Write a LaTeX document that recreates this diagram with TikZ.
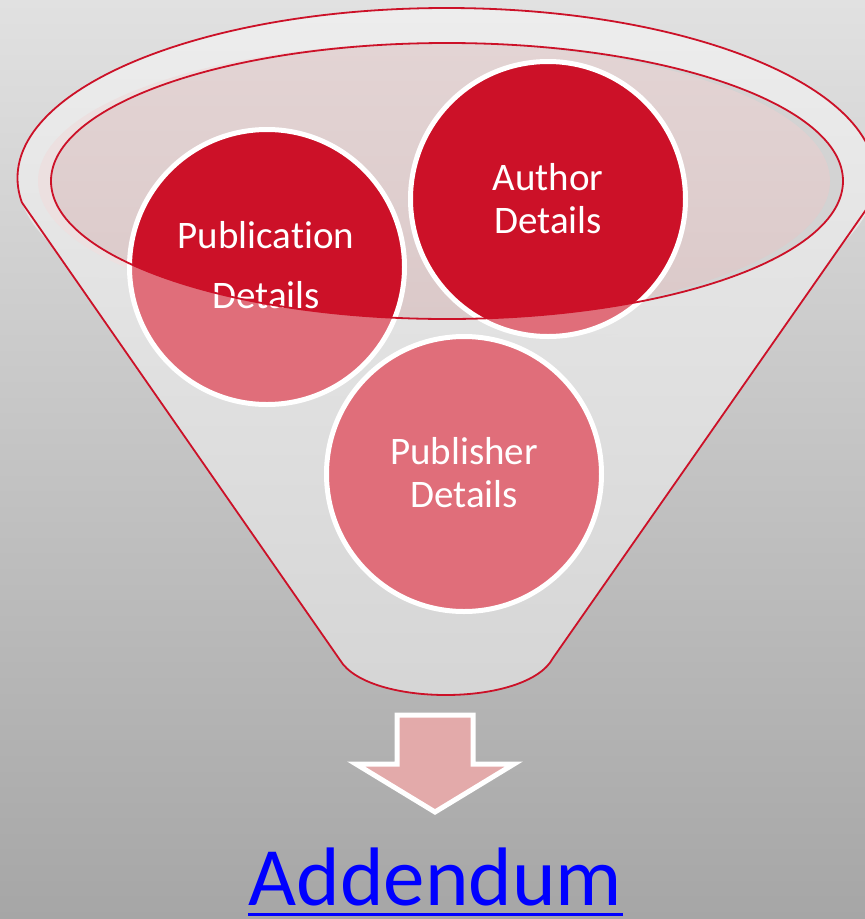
\documentclass[tikz,border=0pt]{standalone}
\usepackage{fontspec}
\setmainfont{Carlito}[RawFeature={-liga,-clig,-dlig}]
\definecolor{bgtop}{RGB}{225,225,225}
\definecolor{bgbot}{RGB}{166,166,166}
\definecolor{ringtop}{RGB}{237,237,237}
\definecolor{ringbot}{RGB}{225,225,225}
\definecolor{bodytop}{RGB}{230,230,230}
\definecolor{bodybot}{RGB}{213,213,213}
\definecolor{funred}{RGB}{204,17,40}
\definecolor{lightred}{RGB}{224,110,122}
\definecolor{pinkband}{RGB}{236,224,224}
\definecolor{pinktop}{RGB}{227,212,212}
\definecolor{pinkbot}{RGB}{219,201,201}
\definecolor{innergray}{RGB}{211,211,211}
\definecolor{arrowfill}{RGB}{227,170,170}
\definecolor{linkblue}{RGB}{0,0,255}
\begin{document}
\begin{tikzpicture}[x=1pt,y=-1pt,
  redline/.style={draw=funred,line width=1.8pt},
  bubble/.style={circle,minimum size=275pt,inner sep=0pt,fill=lightred},
  ring/.style={draw=white,line width=5pt},
  bubbletext/.style={anchor=base,text=white,font=\fontsize{39}{44}\selectfont,inner sep=0pt}]

\useasboundingbox (0,0) rectangle (865,919);
\shade[top color=bgtop,bottom color=bgbot] (0,0) rectangle (865,919);

% funnel body and rim
\shade[top color=bodytop,bottom color=bodybot] (22,202.6) -- (871,202.6) -- (553,658) .. controls (527,707) and (368,707) .. (340,660) -- cycle;
\shade[top color=ringtop,bottom color=ringbot] (446.5,178) ellipse [x radius=429,y radius=170];
\begin{scope}
  \clip (-10,-10) rectangle (900,202.6);
  \draw[redline] (446.5,178) ellipse [x radius=429,y radius=170];
\end{scope}
\draw[redline] (22,202.6) -- (340,660) .. controls (368,707) and (527,707) .. (553,658) -- (871,202.6);

% inner opening
\fill[pinkband] (434,181) ellipse [x radius=396,y radius=138];
\fill[innergray] (447,181) ellipse [x radius=396,y radius=138];
\begin{scope}
  \clip (447,181) ellipse [x radius=396,y radius=138];
  \shade[top color=pinktop,bottom color=pinkbot] (434,181) ellipse [x radius=396,y radius=138];
\end{scope}

% circles
\node[bubble] (pubc) at (267,267) {};
\node[bubble] (autc) at (548,199) {};
\node[bubble] (pbrc) at (464,474) {};
\begin{scope}
  \clip (447,181) ellipse [x radius=396,y radius=138];
  \fill[funred] (pubc.center) circle [radius=137.5];
  \fill[funred] (autc.center) circle [radius=137.5];
\end{scope}
\draw[ring] (pubc.center) circle [radius=137.5];
\draw[ring] (autc.center) circle [radius=137.5];
\draw[ring] (pbrc.center) circle [radius=137.5];

\node[bubbletext] (pubt1) at (266,248) {Publication};
\node[bubbletext] (pubt2) at (266,308) {Details};
\node[bubbletext] (autt1) at (548,190) {Author};
\node[bubbletext] (autt2) at (548,233) {Details};
\node[bubbletext] (pbrt1) at (464,464) {Publisher};
\node[bubbletext] (pbrt2) at (464,507) {Details};

\draw[redline] (447,181) ellipse [x radius=396,y radius=138];

% arrow
\draw[white,line width=5pt,fill=arrowfill,miter limit=10] (397,715) -- (473,715) -- (473,764) -- (514,764) -- (435,812) -- (356,764) -- (397,764) -- cycle;

% link text
\node[anchor=base,inner sep=0pt,text=linkblue,font=\fontsize{83}{90}\selectfont] (add) at (435.5,905) {Addendum};
\draw[linkblue,line width=3pt] ([yshift=-9pt]add.base west) -- ([yshift=-9pt]add.base east);
\end{tikzpicture}
\end{document}
